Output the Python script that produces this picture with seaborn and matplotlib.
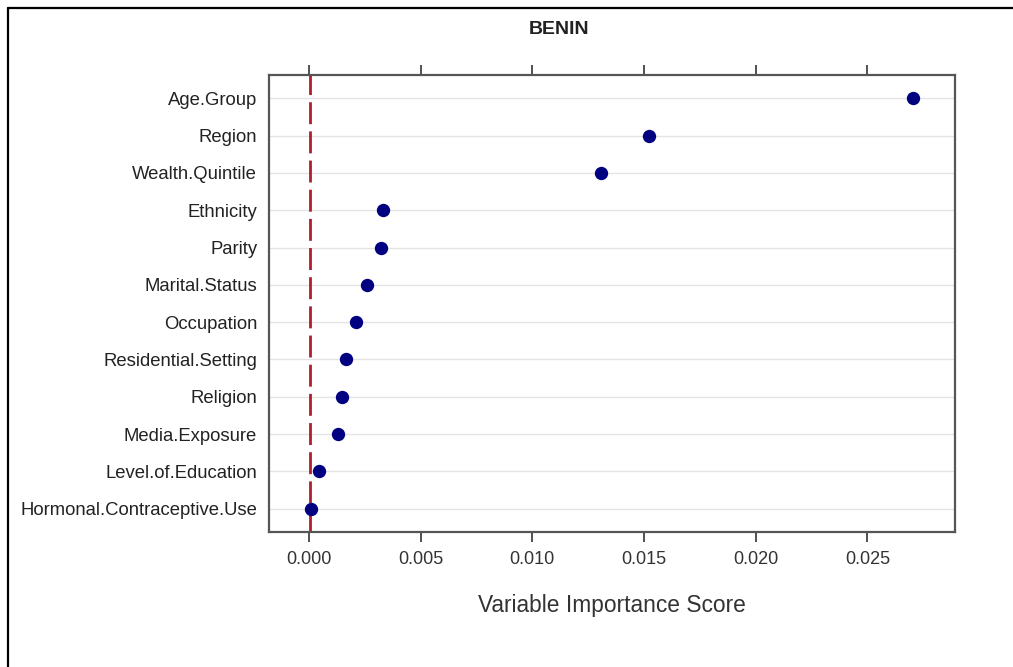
import matplotlib
matplotlib.use("Agg")
import matplotlib.pyplot as plt
from matplotlib.lines import Line2D
import seaborn as sns
import pandas as pd

variables = ["Age.Group", "Region", "Wealth.Quintile", "Ethnicity", "Parity",
             "Marital.Status", "Occupation", "Residential.Setting", "Religion",
             "Media.Exposure", "Level.of.Education", "Hormonal.Contraceptive.Use"]
scores = [0.02705, 0.01523, 0.01307, 0.00333, 0.00322, 0.00258, 0.00212,
          0.00166, 0.00146, 0.00131, 0.00043, 0.00010]
xticks = [0.000, 0.005, 0.010, 0.015, 0.020, 0.025]
xtick_labels = ["0.000", "0.005", "0.010", "0.015", "0.020", "0.025"]
title = "BENIN"
xlabel = "Variable Importance Score"

sns.set_theme(style="white")
plt.rcParams['font.family'] = ['Liberation Sans', 'DejaVu Sans']

df = pd.DataFrame({"variable": variables, "score": scores})

fig = plt.figure(figsize=(10.13, 6.67), dpi=100)
ax = fig.add_axes([269/1013, 1-532/667, (955-269)/1013, (532-75)/667])

for i in range(len(variables)):
    ax.axhline(i, color="#e4e4e4", lw=1.0, zorder=0)
ax.axvline(0.00004, color="#b01e2e", lw=2.0, ls=(0, (7.9, 2.6)), zorder=1)

sns.stripplot(data=df, x="score", y="variable", order=variables, jitter=False,
              color="#000080", size=9.6, linewidth=0, ax=ax, zorder=3)

ax.set_xlim(-0.00179, 0.02892)
ax.set_ylim(len(variables) - 1 + 0.625, -0.625)
ax.set_xticks(xticks)
ax.set_xticklabels(xtick_labels)
ax.set_xlabel(xlabel, fontsize=16.4, color="#333333", labelpad=19)
ax.set_ylabel("")
ax.tick_params(axis="x", which="both", bottom=True, top=True, labeltop=False,
               direction="out", length=7.5, width=1.2, color="#333333",
               labelsize=13, labelcolor="#333333", pad=6)
ax.tick_params(axis="y", left=False, length=0, labelsize=13.3,
               labelcolor="#222222", pad=8.5)
for s in ax.spines.values():
    s.set_color("#555555")
    s.set_linewidth(1.6)
    s.set_visible(True)

fig.text(559/1013, 1-30/667, title, ha="center", va="center",
         fontsize=14, fontweight="bold", color="#222222")

fig.add_artist(Line2D([8/1013, 8/1013], [0, 1-8/667], transform=fig.transFigure,
                      color="black", lw=1.6))
fig.add_artist(Line2D([8/1013, 1], [1-8/667, 1-8/667], transform=fig.transFigure,
                      color="black", lw=1.6))

fig.savefig("out.png", dpi=100, facecolor="white")
